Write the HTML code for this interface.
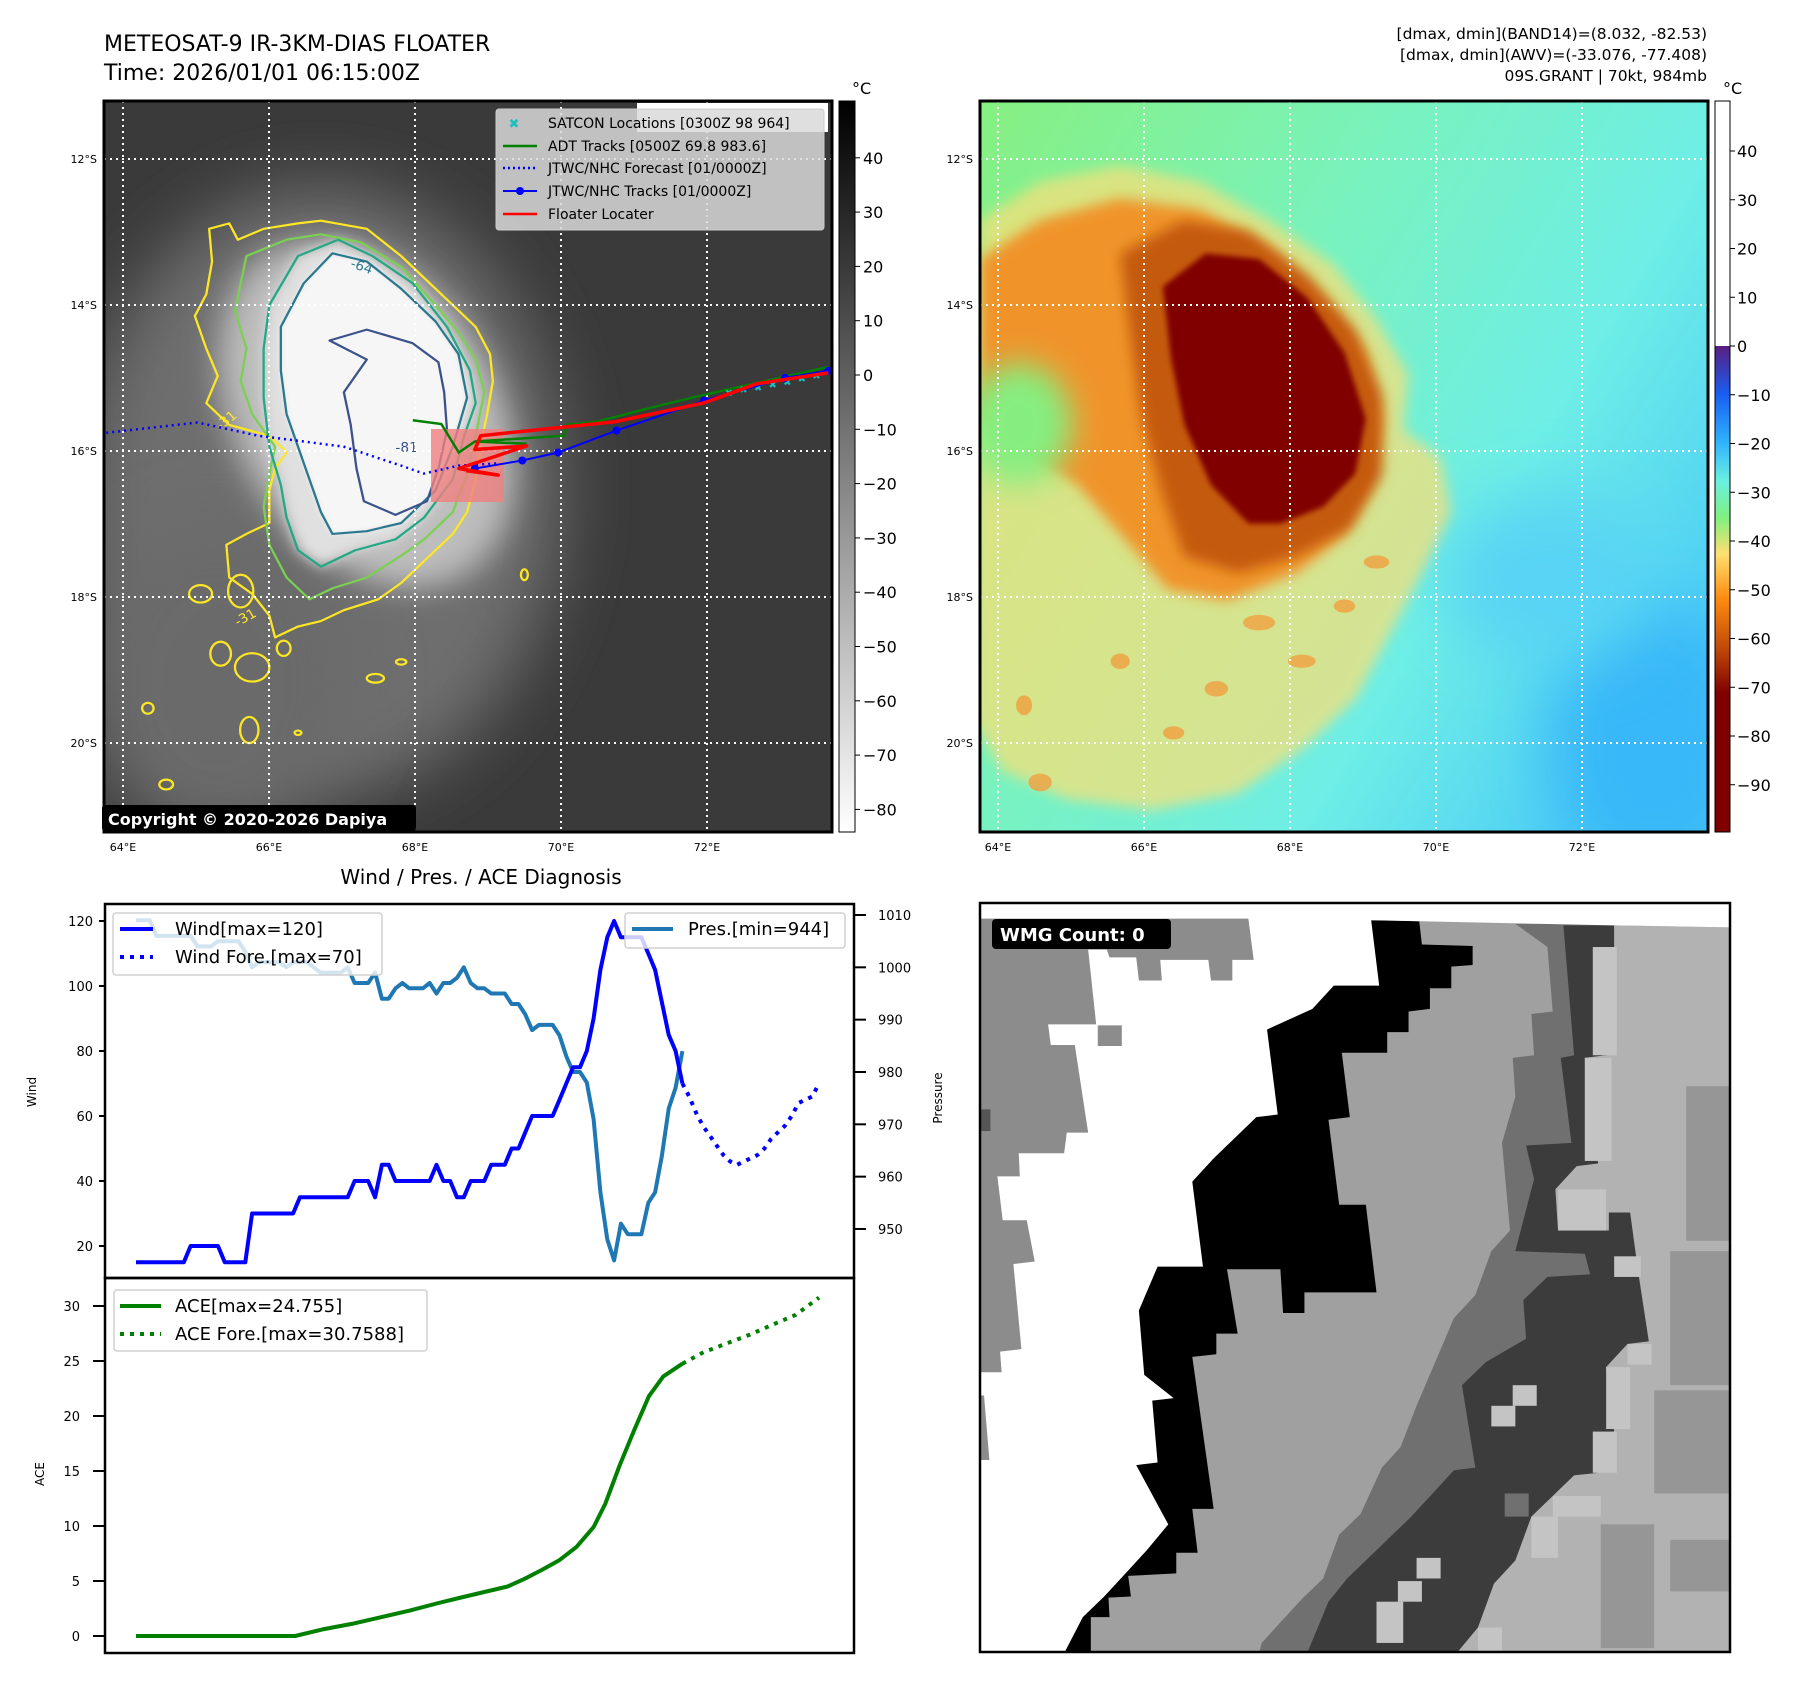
<!DOCTYPE html>
<html><head><meta charset="utf-8"><title>Dapiya Floater</title>
<style>
html,body{margin:0;padding:0;background:#fff;}
svg{display:block;font-family:"DejaVu Sans","Liberation Sans",sans-serif;}
</style></head>
<body>
<svg id="fig" width="1797" height="1690" viewBox="0 0 1797 1690" xmlns="http://www.w3.org/2000/svg">
<defs>
<filter id="b80" x="-100%" y="-100%" width="300%" height="300%"><feGaussianBlur stdDeviation="60"/></filter>
<filter id="b30" x="-50%" y="-50%" width="200%" height="200%"><feGaussianBlur stdDeviation="28"/></filter>
<filter id="b12" x="-50%" y="-50%" width="200%" height="200%"><feGaussianBlur stdDeviation="12"/></filter>
<filter id="b5" x="-50%" y="-50%" width="200%" height="200%"><feGaussianBlur stdDeviation="5"/></filter>
<clipPath id="clipL"><rect x="104" y="101" width="728" height="731"/></clipPath>
<clipPath id="clipR"><rect x="980" y="101" width="728" height="731"/></clipPath>
<clipPath id="clipBR"><rect x="980" y="903" width="750" height="749"/></clipPath>
<linearGradient id="cbL" x1="0" y1="0" x2="0" y2="1">
<stop offset="0" stop-color="#000"/><stop offset="1" stop-color="#fff"/></linearGradient>
<linearGradient id="cbR" x1="0" y1="0" x2="0" y2="1">
<stop offset="0" stop-color="#fff"/><stop offset="0.3349" stop-color="#fff"/>
<stop offset="0.3350" stop-color="#5a1e80"/>
<stop offset="0.40" stop-color="#1a5cf0"/>
<stop offset="0.467" stop-color="#2eb4ff"/>
<stop offset="0.52" stop-color="#6af0e0"/>
<stop offset="0.57" stop-color="#80f080"/>
<stop offset="0.62" stop-color="#ffe070"/>
<stop offset="0.68" stop-color="#ff8c10"/>
<stop offset="0.75" stop-color="#c04808"/>
<stop offset="0.81" stop-color="#800000"/>
<stop offset="1" stop-color="#800000"/></linearGradient>
<linearGradient id="bgR" x1="0" y1="0" x2="1" y2="0.6">
<stop offset="0" stop-color="#88f07c"/><stop offset="0.45" stop-color="#78f2c0"/><stop offset="0.75" stop-color="#6eeee6"/><stop offset="1" stop-color="#50d0f4"/></linearGradient>
</defs>

<!-- Titles -->
<text x="104" y="51" font-size="22">METEOSAT-9 IR-3KM-DIAS FLOATER</text>
<text x="104" y="80" font-size="22">Time: 2026/01/01 06:15:00Z</text>
<g font-size="15.5" text-anchor="end">
<text x="1707" y="39">[dmax, dmin](BAND14)=(8.032, -82.53)</text>
<text x="1707" y="60">[dmax, dmin](AWV)=(-33.076, -77.408)</text>
<text x="1707" y="81">09S.GRANT | 70kt, 984mb</text>
</g>

<!-- LEFT IR MAP -->
<g clip-path="url(#clipL)">
<g transform="scale(0.5731,0.5448)">
<rect x="150" y="150" width="1350" height="1450" fill="#3a3a3a"/>
<ellipse cx="560" cy="900" rx="420" ry="560" fill="#6e6e6e" filter="url(#b80)"/>
<ellipse cx="380" cy="1250" rx="240" ry="300" fill="#6a6a6a" filter="url(#b80)"/>
<g transform="rotate(-28 640 760)"><ellipse cx="640" cy="760" rx="230" ry="340" fill="#bdbdbd" filter="url(#b30)"/></g>
<path d="M470,560 L520,470 L590,440 L650,470 L720,520 L780,600 L820,680 L830,740 L810,800 L790,880 L740,950 L690,990 L620,1010 L560,1040 L520,1010 L500,950 L490,890 L470,820 L460,730 L460,640 Z" fill="#e0e0e0" filter="url(#b12)"/>
<path d="M490,600 L530,520 L580,465 L640,480 L700,530 L760,590 L800,650 L815,730 L790,820 L760,900 L700,960 L640,975 L580,980 L560,940 L540,880 L520,820 L500,760 L490,680 Z" fill="#f6f6f6" filter="url(#b5)"/>
<g fill="none" stroke-width="4" stroke-linejoin="round">
<path d="M365,420 L400,410 L415,440 L460,420 L520,410 L560,405 L640,420 L700,470 L750,520 L800,570 L830,600 L855,650 L860,700 L850,760 L840,810 L830,880 L815,940 L790,980 L740,1030 L700,1070 L660,1100 L600,1120 L560,1140 L520,1150 L480,1170 L470,1130 L440,1090 L400,1060 L395,1000 L430,980 L470,960 L470,900 L480,860 L500,830 L470,800 L400,780 L360,740 L380,690 L360,640 L340,580 L360,540 L370,480 Z" stroke="#fde725"/>
<path d="M430,470 L500,440 L560,430 L630,445 L700,490 L760,560 L800,610 L830,660 L845,720 L830,800 L815,870 L790,940 L740,990 L700,1020 L640,1060 L580,1080 L540,1100 L500,1060 L470,1000 L460,930 L470,870 L480,820 L440,760 L420,700 L430,640 L410,570 Z" stroke="#7ad151"/>
<path d="M470,560 L520,470 L590,440 L650,470 L720,520 L780,600 L820,680 L830,740 L810,800 L790,880 L740,950 L690,990 L620,1010 L560,1040 L520,1010 L500,950 L490,890 L470,820 L460,730 L460,640 Z" stroke="#22a884"/>
<path d="M490,600 L530,520 L580,465 L640,480 L700,530 L760,590 L800,650 L815,730 L790,820 L760,900 L700,960 L640,975 L580,980 L560,940 L540,880 L520,820 L500,760 L490,680 Z" stroke="#2a788e"/>
<path d="M575,625 L640,605 L720,630 L765,665 L775,720 L780,790 L765,860 L745,920 L690,945 L635,920 L622,860 L612,780 L600,720 L620,690 L640,660 Z" stroke="#3b528b"/>
<g stroke="#fde725">
<ellipse cx="350" cy="1090" rx="20" ry="16"/><ellipse cx="420" cy="1085" rx="22" ry="30"/><ellipse cx="385" cy="1200" rx="18" ry="22"/>
<ellipse cx="440" cy="1225" rx="30" ry="26"/><ellipse cx="495" cy="1190" rx="12" ry="14"/><ellipse cx="435" cy="1340" rx="16" ry="24"/>
<ellipse cx="655" cy="1245" rx="15" ry="8"/><ellipse cx="290" cy="1440" rx="12" ry="9"/><ellipse cx="258" cy="1300" rx="10" ry="10"/>
<ellipse cx="915" cy="1055" rx="6" ry="10"/><ellipse cx="700" cy="1215" rx="9" ry="5"/><ellipse cx="520" cy="1345" rx="6" ry="4"/>
</g>
</g>
<g font-size="24">
<text x="610" y="490" fill="#2a788e" transform="rotate(20 610 490)">-64</text>
<text x="690" y="830" fill="#3b528b">-81</text>
<text x="385" y="790" fill="#fde725" transform="rotate(-40 385 790)">-31</text>
<text x="415" y="1150" fill="#fde725" transform="rotate(-30 415 1150)">-31</text>
</g>
</g>
<rect x="637" y="103" width="191" height="29" fill="#fff"/>
<g id="mapOverlay"></g>
<rect x="431" y="429" width="73" height="73" fill="#f08080" opacity="0.8"/>
<g id="tracks"></g>
</g>
<rect x="104" y="101" width="728" height="731" fill="none" stroke="#000" stroke-width="3"/>
<g>
<rect x="102" y="805" width="314" height="26" rx="3" fill="#000"/>
<text x="108" y="825" font-size="16" font-weight="bold" fill="#fff">Copyright © 2020-2026 Dapiya</text>
</g>
<!-- left legend -->
<g font-size="14">
<rect x="496" y="109" width="328" height="121" rx="3" fill="#d9d9d9" fill-opacity="0.85" stroke="#ccc"/>
<text x="514" y="128" fill="#1fbfbf" font-size="13" font-weight="bold" text-anchor="middle">✖</text>
<text x="548" y="128">SATCON Locations [0300Z 98 964]</text>
<line x1="503" y1="146" x2="537" y2="146" stroke="#008000" stroke-width="2.5"/>
<text x="548" y="151">ADT Tracks [0500Z 69.8 983.6]</text>
<line x1="503" y1="168" x2="537" y2="168" stroke="#0000ff" stroke-width="2.5" stroke-dasharray="2,3"/>
<text x="548" y="173">JTWC/NHC Forecast [01/0000Z]</text>
<line x1="503" y1="191" x2="537" y2="191" stroke="#0000ff" stroke-width="2"/><circle cx="520" cy="191" r="4" fill="#0000ff"/>
<text x="548" y="196">JTWC/NHC Tracks [01/0000Z]</text>
<line x1="503" y1="214" x2="537" y2="214" stroke="#ff0000" stroke-width="2.5"/>
<text x="548" y="219">Floater Locater</text>
</g>
<!-- left colorbar -->
<rect x="839" y="101" width="16" height="731" fill="url(#cbL)" stroke="#000" stroke-width="1"/>
<text x="852" y="94" font-size="16">°C</text>
<g id="cbLTicks"></g>

<!-- RIGHT AWV MAP -->
<g clip-path="url(#clipR)">
<g transform="translate(960,0) scale(0.534,0.551)">
<rect x="0" y="150" width="1450" height="1400" fill="url(#bgR)"/>
<ellipse cx="1300" cy="1350" rx="200" ry="260" fill="#38b8f8" filter="url(#b80)"/>
<ellipse cx="1100" cy="1050" rx="200" ry="150" fill="#58d4f4" filter="url(#b80)"/>
<path d="M37,400 L150,330 L300,300 L450,330 L580,400 L700,480 L780,580 L840,680 L830,780 L900,830 L920,930 L860,1050 L800,1160 L740,1270 L640,1360 L520,1440 L360,1470 L200,1450 L80,1400 L20,1300 Z" fill="#f6e07a" opacity="0.75" filter="url(#b12)"/>
<path d="M37,470 L150,400 L300,360 L450,380 L580,450 L680,540 L760,640 L790,760 L770,880 L720,970 L630,1040 L500,1090 L390,1070 L310,980 L220,880 L120,820 L37,760 Z" fill="#f0942c" filter="url(#b12)"/>
<ellipse cx="110" cy="770" rx="100" ry="110" fill="#86ee80" filter="url(#b30)"/>
<path d="M300,460 L420,400 L540,420 L650,500 L740,600 L790,720 L790,860 L730,960 L630,1010 L520,1040 L420,1010 L380,900 L340,760 L320,620 Z" fill="#c45a10" filter="url(#b12)"/>
<path d="M380,520 L460,460 L560,470 L650,540 L720,640 L760,760 L740,860 L680,920 L600,950 L540,950 L470,880 L420,770 L395,650 Z" fill="#800000" filter="url(#b5)"/>
<g fill="#f0a040" opacity="0.8">
<ellipse cx="560" cy="1130" rx="30" ry="14"/><ellipse cx="640" cy="1200" rx="26" ry="12"/><ellipse cx="480" cy="1250" rx="22" ry="14"/>
<ellipse cx="400" cy="1330" rx="20" ry="12"/><ellipse cx="300" cy="1200" rx="18" ry="14"/><ellipse cx="150" cy="1420" rx="22" ry="16"/>
<ellipse cx="120" cy="1280" rx="15" ry="18"/><ellipse cx="720" cy="1100" rx="20" ry="12"/><ellipse cx="780" cy="1020" rx="24" ry="12"/>
</g>
</g>
<g id="gridR"></g>
</g>
<rect x="980" y="101" width="728" height="731" fill="none" stroke="#000" stroke-width="3"/>
<rect x="1715" y="101" width="15" height="731" fill="url(#cbR)" stroke="#000" stroke-width="1"/>
<text x="1723" y="94" font-size="16">°C</text>
<g id="cbRTicks"></g>
<g id="mapLabels"></g>

<!-- WIND / PRES / ACE -->
<text x="481" y="884" font-size="20" text-anchor="middle">Wind / Pres. / ACE Diagnosis</text>
<rect x="105" y="904" width="749" height="374" fill="#fff"/>
<rect x="105" y="1278" width="749" height="375" fill="#fff"/>
<g id="chart"></g>
<rect x="105" y="904" width="749" height="374" fill="none" stroke="#000" stroke-width="2.5"/>
<rect x="105" y="1278" width="749" height="375" fill="none" stroke="#000" stroke-width="2.5"/>
<text transform="translate(36,1092) rotate(-90)" font-size="12" text-anchor="middle">Wind</text>
<text transform="translate(942,1098) rotate(-90)" font-size="12" text-anchor="middle">Pressure</text>
<text transform="translate(44,1474) rotate(-90)" font-size="12" text-anchor="middle">ACE</text>
<g font-size="18">
<rect x="113" y="913" width="269" height="62" rx="3" fill="#fff" fill-opacity="0.8" stroke="#d0d0d0" stroke-width="1.5"/>
<line x1="120" y1="929" x2="153" y2="929" stroke="#0000ff" stroke-width="4"/>
<text x="175" y="935">Wind[max=120]</text>
<line x1="120" y1="957" x2="153" y2="957" stroke="#0000ff" stroke-width="4" stroke-dasharray="4,6"/>
<text x="175" y="963">Wind Fore.[max=70]</text>
</g>
<g font-size="18">
<rect x="625" y="913" width="220" height="35" rx="3" fill="#fff" fill-opacity="0.8" stroke="#d0d0d0" stroke-width="1.5"/>
<line x1="632" y1="929" x2="673" y2="929" stroke="#1f77b4" stroke-width="4"/>
<text x="688" y="935">Pres.[min=944]</text>
</g>
<g font-size="18">
<rect x="114" y="1290" width="313" height="61" rx="3" fill="#fff" fill-opacity="0.8" stroke="#d0d0d0" stroke-width="1.5"/>
<line x1="120" y1="1306" x2="161" y2="1306" stroke="#008000" stroke-width="4"/>
<text x="175" y="1312">ACE[max=24.755]</text>
<line x1="120" y1="1334" x2="161" y2="1334" stroke="#008000" stroke-width="4" stroke-dasharray="4,6"/>
<text x="175" y="1340">ACE Fore.[max=30.7588]</text>
</g>

<!-- WMG PANEL -->
<g clip-path="url(#clipBR)">
<g transform="translate(960,880) scale(0.534,0.5155)">
<rect x="30" y="40" width="1420" height="1460" fill="#a0a0a0"/>
<path d="M1040,85 L1100,130 L1110,255 L1070,260 L1075,340 L1035,345 L1040,420 L1015,510 L1030,680 L995,720 L965,805 L925,850 L890,935 L855,1020 L825,1100 L790,1140 L750,1230 L710,1270 L680,1355 L640,1395 L600,1440 L565,1480 L560,1500 L1445,1500 L1445,85 Z" fill="#707070"/>
<path d="M1130,88 L1150,340 L1125,345 L1145,510 L1060,515 L1075,580 L1040,720 L1170,725 L1180,765 L1100,770 L1055,815 L1060,890 L985,935 L940,980 L965,1140 L925,1145 L885,1190 L845,1235 L805,1275 L765,1315 L725,1355 L690,1400 L650,1500 L930,1500 L970,1450 L1000,1365 L1040,1320 L1070,1235 L1110,1195 L1150,1155 L1195,1150 L1185,1075 L1225,1070 L1210,945 L1250,900 L1290,895 L1270,760 L1255,645 L1215,645 L1215,680 L1120,680 L1115,600 L1155,555 L1195,550 L1170,345 L1210,340 L1185,135 L1225,130 L1225,88 Z" fill="#3c3c3c"/>
<path d="M1225,88 L1445,92 L1445,1500 L930,1500 L970,1450 L1000,1365 L1040,1320 L1070,1235 L1110,1195 L1150,1155 L1195,1150 L1185,1075 L1225,1070 L1210,945 L1250,900 L1290,895 L1270,760 L1255,645 L1215,645 L1215,680 L1120,680 L1115,600 L1155,555 L1195,550 L1170,345 L1210,340 L1185,135 L1225,130 Z" fill="#b2b2b2"/>
<g fill="#c4c4c4">
<rect x="1185" y="130" width="45" height="210"/><rect x="1170" y="345" width="50" height="200"/><rect x="1120" y="600" width="90" height="80"/>
<rect x="1225" y="730" width="50" height="40"/><rect x="1250" y="900" width="45" height="40"/><rect x="1210" y="945" width="45" height="120"/>
<rect x="1185" y="1070" width="45" height="80"/><rect x="1110" y="1195" width="90" height="40"/><rect x="1070" y="1235" width="50" height="80"/>
<rect x="1035" y="980" width="45" height="40"/><rect x="995" y="1020" width="45" height="40"/><rect x="855" y="1315" width="45" height="40"/>
<rect x="820" y="1360" width="45" height="40"/><rect x="780" y="1400" width="50" height="80"/><rect x="970" y="1450" width="45" height="45"/>
</g>
<g fill="#969696">
<rect x="1360" y="400" width="80" height="300"/><rect x="1330" y="720" width="110" height="260"/><rect x="1300" y="990" width="140" height="200"/>
<rect x="1200" y="1250" width="100" height="240"/><rect x="1330" y="1280" width="110" height="100"/>
</g>
<rect x="1020" y="1190" width="45" height="45" fill="#707070"/>
<path d="M770,78 L860,80 L865,125 L960,128 L960,165 L920,168 L920,210 L880,210 L880,250 L840,255 L840,295 L800,295 L800,335 L715,335 L730,460 L690,465 L710,630 L760,630 L780,800 L645,800 L645,840 L605,840 L600,755 L500,755 L520,880 L480,880 L480,920 L435,925 L475,1220 L435,1220 L445,1305 L405,1305 L405,1345 L315,1350 L320,1390 L278,1392 L280,1430 L245,1430 L245,1500 L30,1500 L30,78 Z" fill="#000"/>
<path d="M30,40 L1445,40 L1445,92 L1225,88 L860,80 L770,78 L785,205 L700,205 L660,250 L575,290 L595,455 L555,460 L515,500 L475,540 L435,585 L455,750 L370,750 L335,835 L345,960 L400,1005 L360,1010 L370,1130 L330,1135 L390,1250 L350,1300 L310,1345 L270,1390 L230,1430 L195,1500 L30,1500 Z" fill="#fff"/>
<path d="M37,75 L540,75 L550,155 L510,155 L510,195 L470,195 L465,155 L375,155 L378,195 L335,195 L330,150 L280,150 L275,135 L240,135 L255,280 L165,280 L170,320 L215,320 L240,490 L200,490 L195,530 L110,530 L112,575 L70,575 L80,660 L125,660 L140,740 L100,745 L115,910 L75,915 L78,955 L37,955 Z" fill="#8c8c8c"/>
<rect x="258" y="282" width="45" height="40" fill="#8c8c8c"/>
<path d="M37,1000 L45,1000 L55,1125 L37,1125 Z" fill="#8c8c8c"/>
<rect x="37" y="445" width="20" height="42" fill="#555"/>
</g>
</g>
<rect x="980" y="903" width="750" height="749" fill="none" stroke="#000" stroke-width="2.5"/>
<g>
<rect x="992" y="919" width="179" height="30" rx="4" fill="#000"/>
<text x="1000" y="941" font-size="18" font-weight="bold" fill="#fff">WMG Count: 0</text>
</g>
</svg>

<script>
// ---------- chart data ----------
const windObs = [15,15,15,15,15,15,15,15,20,20,20,20,20,15,15,15,15,30,30,30,30,30,30,30,35,35,35,35,35,35,35,35,40,40,40,35,45,45,40,40,40,40,40,40,45,40,40,35,35,40,40,40,45,45,45,50,50,55,60,60,60,60,65,70,75,75,80,90,105,115,120,115,115,115,115,110,105,95,85,80,70];
const windFore = [70,66,61,57,54,51,48,46,45,46,47,48,50,53,55,57,60,64,65,66,70];
const presObs = [1009,1009,1009,1006,1006,1006,1006,1006,1006,1004,1004,1004,1005,1005,1005,1005,1003,1000,1001,1001,1001,1001,1000,1001,1001,1001,1000,999,999,999,999,1000,997,997,997,999,994,994,996,997,996,996,996,997,995,997,997,998,1000,997,996,996,995,995,995,993,993,991,988,989,989,989,987,983,980,980,978,971,957,948,944,951,949,949,949,955,957,964,973,977,984];
const aceIdx = [0,23.3,27.3,31.6,35.8,40,44.3,47.6,51,54.4,56.9,59.4,62,64.5,67,68.7,70.8,73,75.1,77.2,80];
const aceVal = [0,0,0.6,1.1,1.7,2.3,3.0,3.5,4.0,4.5,5.2,6.0,6.9,8.1,9.9,12.0,15.5,18.8,21.8,23.6,24.755];
const aceForeIdx = [80,83.1,86.5,89.9,93.2,96.6,100];
const aceForeVal = [24.755,25.8,26.6,27.4,28.3,29.2,30.76];
const windTicks = [20,40,60,80,100,120];
const presTicks = [950,960,970,980,990,1000,1010];
const aceTicks = [0,5,10,15,20,25,30];
const windForeStart = 80;
// map data
const lonTicks = [64,66,68,70,72];
const latTicks = [12,14,16,18,20];
const leftCbTicks = [40,30,20,10,0,-10,-20,-30,-40,-50,-60,-70,-80];
const rightCbTicks = [40,30,20,10,0,-10,-20,-30,-40,-50,-60,-70,-80,-90];
const forecastLon = [63.77,65.02,65.85,67.02,67.81,68.12,68.6,69.14];
const forecastLat = [15.75,15.61,15.79,15.94,16.2,16.31,16.2,16.17];
const trackLon = [68.82,69.47,69.96,70.76,71.96,73.07,73.66];
const trackLat = [16.24,16.13,16.02,15.72,15.31,15.0,14.9];
const adtLon = [67.97,68.36,68.6,68.82,69.53,68.82,70.04,70.08,70.48,71.34,71.96,73.66];
const adtLat = [15.58,15.63,16.02,15.87,15.9,15.87,15.79,15.64,15.6,15.38,15.23,14.85];
const floaterLon = [73.66,72.68,71.96,70.74,68.9,68.82,69.53,68.6,69.14,68.7];
const floaterLat = [14.93,15.08,15.34,15.6,15.79,15.98,15.93,16.24,16.33,16.27];
const satconLon = [72.3,72.5,72.7,72.9,73.1,73.3,73.5,73.65];
const satconLat = [15.2,15.15,15.12,15.08,15.05,15.0,14.96,14.9];

const NS = 'http://www.w3.org/2000/svg';
function mk(tag, attrs, parent){const e=document.createElementNS(NS,tag);for(const k in attrs)e.setAttribute(k,attrs[k]);parent.appendChild(e);return e;}

// axis functions
function xIdx(i){return 136 + i*6.83;}
function yWind(v){return 921 + (120 - v)*3.25;}
function yPres(p){return 915 + (1010 - p)*5.233;}
function yAce(a){return 1636 - a*11;}
function lonL(lon){return 123 + (lon-64)*73;}
function lonR(lon){return 998 + (lon-64)*73;}
function latY(lat){return 159 + (lat-12)*73;}
function cbLY(v){return 375 - v*5.43;}
function cbRY(v){return 346 - v*4.875;}

const chart = document.getElementById('chart');
function pts(xs, ys){return xs.map((x,k)=>x.toFixed(1)+','+ys[k].toFixed(1)).join(' ');}

windTicks.forEach(v=>{
  const y=yWind(v);
  const t=mk('line',{x1:99,x2:105,y1:y,y2:y,stroke:'#000','stroke-width':2},chart);
  
  
  const l=mk('text',{x:93,y:y+5,'font-size':13,'text-anchor':'end'},chart);l.textContent=v;
  
  
});
presTicks.forEach(v=>{
  const y=yPres(v);
  const t=mk('line',{x1:854,x2:866,y1:y,y2:y,stroke:'#000','stroke-width':2},chart);
  
  
  const l=mk('text',{x:878,y:y+5,'font-size':13},chart);l.textContent=v;
  
  
});
aceTicks.forEach(v=>{
  const y=yAce(v);
  const t=mk('line',{x1:93,x2:105,y1:y,y2:y,stroke:'#000','stroke-width':2},chart);
  
  
  const l=mk('text',{x:80,y:y+5,'font-size':13,'text-anchor':'end'},chart);l.textContent=v;
  
  
});

let e;
e=mk('polyline',{points:pts(presObs.map((v,i)=>xIdx(i)),presObs.map(yPres)),fill:'none',stroke:'#1f77b4','stroke-width':4,'stroke-linejoin':'round'},chart);


e=mk('polyline',{points:pts(windObs.map((v,i)=>xIdx(i)),windObs.map(yWind)),fill:'none',stroke:'#0000ff','stroke-width':4,'stroke-linejoin':'round'},chart);


e=mk('polyline',{points:pts(windFore.map((v,i)=>xIdx(windForeStart+i)),windFore.map(yWind)),fill:'none',stroke:'#0000ff','stroke-width':4,'stroke-dasharray':'4,6'},chart);


e=mk('polyline',{points:pts(aceIdx.map(xIdx),aceVal.map(yAce)),fill:'none',stroke:'#008000','stroke-width':4,'stroke-linejoin':'round'},chart);


e=mk('polyline',{points:pts(aceForeIdx.map(xIdx),aceForeVal.map(yAce)),fill:'none',stroke:'#008000','stroke-width':4,'stroke-dasharray':'4,6'},chart);



const ov=document.getElementById('mapOverlay');
lonTicks.forEach(lon=>{
  const g=mk('line',{x1:lonL(lon),x2:lonL(lon),y1:101,y2:832,stroke:'#fff','stroke-width':2,'stroke-dasharray':'2,4'},ov);
  
  
});
latTicks.forEach(lat=>{
  const g=mk('line',{x1:104,x2:832,y1:latY(lat),y2:latY(lat),stroke:'#fff','stroke-width':2,'stroke-dasharray':'2,4'},ov);
  
  
});
const gr=document.getElementById('gridR');
lonTicks.forEach(lon=>{
  const g=mk('line',{x1:lonR(lon),x2:lonR(lon),y1:101,y2:832,stroke:'#fff','stroke-width':2,'stroke-dasharray':'2,4'},gr);
  
  
});
latTicks.forEach(lat=>{
  const g=mk('line',{x1:980,x2:1708,y1:latY(lat),y2:latY(lat),stroke:'#fff','stroke-width':2,'stroke-dasharray':'2,4'},gr);
  
  
});

const tr=document.getElementById('tracks');
e=mk('polyline',{points:pts(adtLon.map(lonL),adtLat.map(latY)),fill:'none',stroke:'#008000','stroke-width':2.5},tr);


satconLon.forEach((lon,k)=>{
  const s=mk('text',{x:lonL(lon),y:latY(satconLat[k])+4,'font-size':10,fill:'#1fbfbf','text-anchor':'middle','font-weight':'bold'},tr);
  s.textContent='✖';
  
  
});
e=mk('polyline',{points:pts(forecastLon.map(lonL),forecastLat.map(latY)),fill:'none',stroke:'#0000ff','stroke-width':2.5,'stroke-dasharray':'2,4'},tr);


e=mk('polyline',{points:pts(trackLon.map(lonL),trackLat.map(latY)),fill:'none',stroke:'#0000ff','stroke-width':2},tr);


trackLon.forEach((lon,k)=>{
  const c=mk('circle',{cx:lonL(lon),cy:latY(trackLat[k]),r:4,fill:'#0000ff'},tr);
  
  
});
e=mk('polyline',{points:pts(floaterLon.map(lonL),floaterLat.map(latY)),fill:'none',stroke:'#ff0000','stroke-width':3.5,'stroke-linejoin':'round'},tr);



const cl=document.getElementById('cbLTicks');
leftCbTicks.forEach(v=>{
  const y=cbLY(v);
  const t=mk('line',{x1:855,x2:860,y1:y,y2:y,stroke:'#000','stroke-width':1},cl);
  
  
  const l=mk('text',{x:863,y:y+6,'font-size':16},cl);l.textContent=v<0?'\u2212'+(-v):v;
  
  
});
const cr=document.getElementById('cbRTicks');
rightCbTicks.forEach(v=>{
  const y=cbRY(v);
  const t=mk('line',{x1:1730,x2:1735,y1:y,y2:y,stroke:'#000','stroke-width':1},cr);
  
  
  const l=mk('text',{x:1737,y:y+6,'font-size':16},cr);l.textContent=v<0?'\u2212'+(-v):v;
  
  
});

const ml=document.getElementById('mapLabels');
latTicks.forEach(lat=>{
  [97,973].forEach(x=>{
    const l=mk('text',{x:x,y:latY(lat)+4,'font-size':11,'text-anchor':'end'},ml);
    l.textContent=lat+'°S';
    
    
  });
});
lonTicks.forEach(lon=>{
  [lonL(lon),lonR(lon)].forEach(x=>{
    const l=mk('text',{x:x,y:851,'font-size':11,'text-anchor':'middle'},ml);
    l.textContent=lon+'°E';
    
    
  });
});
</script>
</body></html>
